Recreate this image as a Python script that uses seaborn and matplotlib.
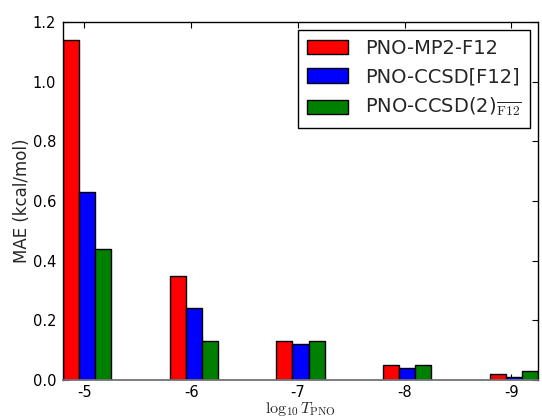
"""
PNO threshold convergence: MAE per method as grouped bars
"""

import numpy as np
import pandas as pd
import matplotlib
matplotlib.use('Agg')
import matplotlib.pyplot as plt
import seaborn as sns

# data
thresholds = ['-5', '-6', '-7', '-8', '-9']
methods = ['PNO-MP2-F12', 'PNO-CCSD[F12]', r'PNO-CCSD(2)$_{\overline{\rm F12}}$']
mae_mp2f12 = [1.14, 0.35, 0.13, 0.05, 0.02]
mae_ccsd_f12 = [0.63, 0.24, 0.12, 0.04, 0.01]
mae_ccsd2_f12 = [0.44, 0.13, 0.13, 0.05, 0.03]
colors = ['#ff0000', '#0000ff', '#008000']

df = pd.DataFrame({
    'threshold': thresholds * 3,
    'method': np.repeat(methods, len(thresholds)),
    'mae': mae_mp2f12 + mae_ccsd_f12 + mae_ccsd2_f12,
})

sns.set_style('ticks')
plt.rcParams['font.family'] = ['DejaVu Sans']
plt.rcParams['mathtext.fontset'] = 'cm'

fig = plt.figure(figsize=(5.42, 4.19), dpi=100)
ax = fig.add_axes([63 / 542, 39 / 419, 475 / 542, 358 / 419])

sns.barplot(data=df, x='threshold', y='mae', hue='method', order=thresholds,
            hue_order=methods, palette=colors, saturation=1, width=0.45,
            edgecolor='black', linewidth=1, errorbar=None, ax=ax)

# group ticks sit slightly left of the group centre in the original
ax.set_xticks(np.arange(len(thresholds)) - 0.025)
ax.set_xticklabels(thresholds)
ax.set_xlim(-0.225, len(thresholds) - 1 + 0.225)
ax.set_ylim(0, 1.2)
ax.set_yticks(np.arange(0, 1.21, 0.2))
ax.set_yticklabels([f'{v:.1f}' for v in np.arange(0, 1.21, 0.2)])

ax.tick_params(direction='in', top=True, right=True, length=4, width=0.8,
               labelsize=10.5, colors='black', pad=5)
ax.tick_params(axis='x', pad=3.5)
for side in ['left', 'right', 'top']:
    ax.spines[side].set_color('black')
    ax.spines[side].set_linewidth(1)
ax.spines['bottom'].set_color('0.45')
ax.spines['bottom'].set_linewidth(1.3)

ax.set_xlabel(r'$\log_{10}T_{\rm PNO}$', fontsize=11.5, labelpad=0)
ax.set_ylabel('MAE (kcal/mol)', fontsize=12, labelpad=1)

handles, labels = ax.get_legend_handles_labels()
leg = ax.legend(handles, labels, loc='upper right', fontsize=14,
                frameon=True, fancybox=False, framealpha=1,
                edgecolor='black', borderpad=0.45, labelspacing=0.5,
                handlelength=2.1, handleheight=0.75, handletextpad=0.9,
                borderaxespad=0.4)
leg.get_frame().set_linewidth(1)

fig.savefig('out.png', dpi=100)
